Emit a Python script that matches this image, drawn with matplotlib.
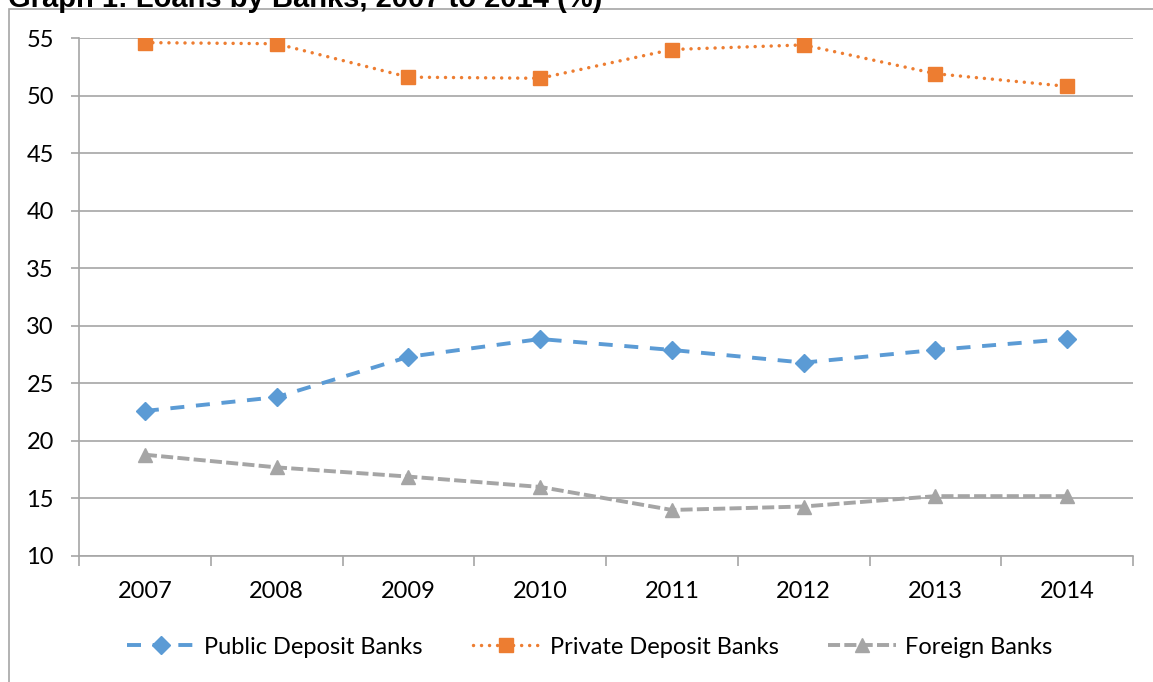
import matplotlib.pyplot as plt
from matplotlib.patches import Rectangle
from matplotlib.ticker import FixedLocator

years = ['2007', '2008', '2009', '2010', '2011', '2012', '2013', '2014']
public_banks = [22.6, 23.8, 27.3, 28.85, 27.9, 26.8, 27.9, 28.85]
private_banks = [54.6, 54.5, 51.6, 51.5, 54.0, 54.4, 51.9, 50.8]
foreign_banks = [18.8, 17.7, 16.9, 16.0, 14.0, 14.3, 15.2, 15.2]

plt.rcParams['font.family'] = ['Lato', 'DejaVu Sans']

fig = plt.figure(figsize=(11.53, 6.82), dpi=100)
ax = fig.add_axes([79 / 1153, 1 - 556 / 682, (1133 - 79) / 1153, (556 - 38) / 682])

x = list(range(len(years)))
ax.plot(x, public_banks, color='#5B9BD5', lw=2.8, dashes=(3.6, 3.0), marker='D',
        markersize=9, label='Public Deposit Banks')
ax.plot(x, private_banks, color='#ED7D31', lw=2.5, dashes=(0.01, 2.3), dash_capstyle='round',
        marker='s', markersize=10, label='Private Deposit Banks')
ax.plot(x, foreign_banks, color='#A5A5A5', lw=2.8, dashes=(3.1, 1.1), marker='^',
        markersize=10, label='Foreign Banks')

ax.set_xlim(-0.5, 7.5)
ax.set_ylim(10, 55)
ax.set_yticks(range(10, 56, 5))
ax.set_xticks(x)
ax.set_xticklabels(years)
ax.xaxis.set_minor_locator(FixedLocator([i + 0.5 for i in range(-1, 8)]))
ax.tick_params(axis='x', which='major', length=0, pad=18, labelsize=17)
ax.tick_params(axis='x', which='minor', length=7, width=1.2, color='#A6A6A6')
ax.tick_params(axis='y', length=6, width=1.2, color='#A6A6A6', pad=12, labelsize=17)

ax.grid(axis='y', color='#A6A6A6', lw=1.2)
ax.set_axisbelow(True)
for side in ['top', 'right']:
    ax.spines[side].set_visible(False)
for side in ['left', 'bottom']:
    ax.spines[side].set_color('#A6A6A6')
    ax.spines[side].set_linewidth(1.2)

fig.legend(loc='center', bbox_to_anchor=(590 / 1153, 1 - 647 / 682), ncol=3, frameon=False,
           fontsize=17, handlelength=2.85, handletextpad=0.42, columnspacing=2.1)

# chart border and cut-off title
fig.patches.append(Rectangle((9 / 1153, -0.1), 1.2, 1.1 - 9 / 682, transform=fig.transFigure,
                             fill=False, edgecolor='#A6A6A6', lw=1.2))
fig.text(8 / 1153, 1 - 7 / 682, 'Graph 1: Loans by Banks, 2007 to 2014 (%)',
         fontsize=21, fontweight='bold', family='Liberation Sans', va='baseline', ha='left')

fig.savefig('out.png', dpi=100)
